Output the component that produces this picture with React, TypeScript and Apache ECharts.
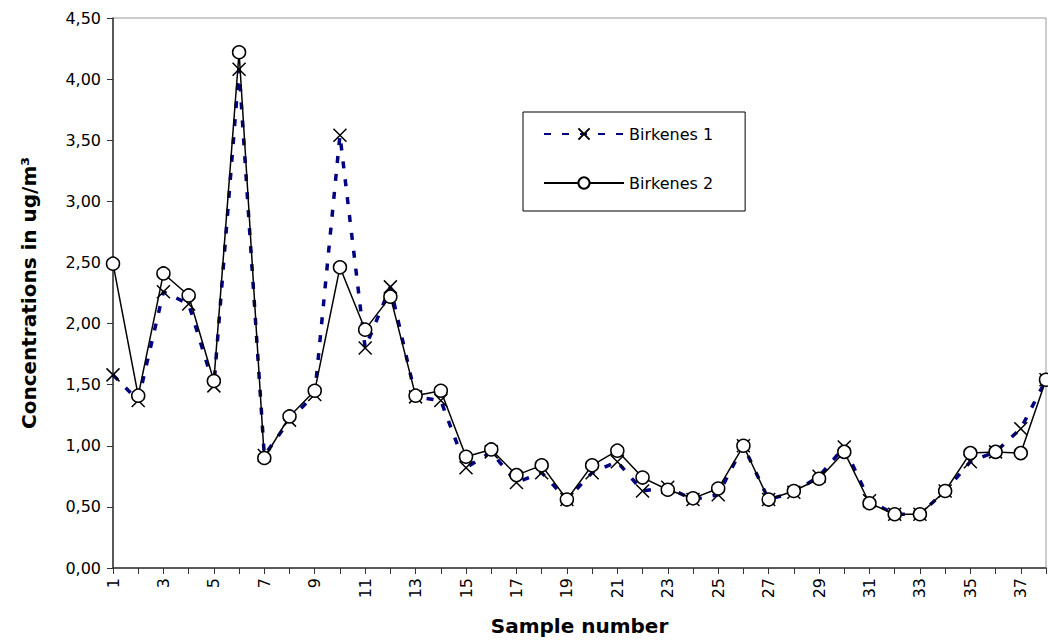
import React, { useEffect, useRef } from "react";
import * as echarts from "echarts";

const categories = Array.from({ length: 38 }, (_, i) => String(i + 1));

const birkenes1 = [
  1.58, 1.37, 2.26, 2.16, 1.49, 4.08, 0.92, 1.21, 1.42, 3.54,
  1.80, 2.30, 1.40, 1.37, 0.82, 0.95, 0.70, 0.78, 0.56, 0.78,
  0.87, 0.63, 0.66, 0.56, 0.60, 1.00, 0.56, 0.62, 0.75, 0.99,
  0.55, 0.44, 0.44, 0.63, 0.87, 0.95, 1.14, 1.54,
];

const birkenes2 = [
  2.49, 1.41, 2.41, 2.23, 1.53, 4.22, 0.90, 1.24, 1.45, 2.46,
  1.95, 2.22, 1.41, 1.45, 0.91, 0.97, 0.76, 0.84, 0.56, 0.84,
  0.96, 0.74, 0.64, 0.57, 0.65, 1.00, 0.56, 0.63, 0.73, 0.95,
  0.53, 0.44, 0.44, 0.63, 0.94, 0.95, 0.94, 1.54,
];

const FONT = "'DejaVu Sans', 'Liberation Sans', Arial, sans-serif";

export default function App() {
  const ref = useRef<HTMLDivElement>(null);
  useEffect(() => {
    if (!ref.current) return;
    const chart = echarts.init(ref.current, undefined, { renderer: "svg" });
    chart.setOption({
      animation: false,
      backgroundColor: "#fff",
      grid: {
        left: 113,
        right: 2,
        top: 18,
        bottom: 73,
        show: true,
        borderColor: "#999",
        borderWidth: 1,
      },
      legend: {
        left: 523,
        top: 112,
        orient: "vertical",
        padding: [14, 32, 20, 20],
        itemWidth: 80,
        itemHeight: 14,
        itemGap: 33,
        borderColor: "#000",
        borderWidth: 1,
        backgroundColor: "#fff",
        textStyle: { fontFamily: FONT, fontSize: 16, color: "#000" },
        data: ["Birkenes 1", "Birkenes 2"],
      },
      xAxis: {
        type: "category",
        data: categories,
        boundaryGap: false,
        name: "Sample number",
        nameLocation: "middle",
        nameGap: 48,
        nameTextStyle: {
          fontFamily: FONT,
          fontSize: 20,
          fontWeight: "bold",
          color: "#000",
        },
        axisLine: { lineStyle: { color: "#333", width: 1.5 } },
        axisTick: { interval: 0, length: 6, lineStyle: { color: "#333" } },
        axisLabel: {
          interval: 1,
          rotate: 90,
          fontFamily: FONT,
          fontSize: 16,
          color: "#000",
          margin: 10,
        },
        splitLine: { show: false },
      },
      yAxis: {
        type: "value",
        min: 0,
        max: 4.5,
        interval: 0.5,
        name: "Concentrations in ug/m³",
        nameLocation: "middle",
        nameGap: 74,
        nameTextStyle: {
          fontFamily: FONT,
          fontSize: 20,
          fontWeight: "bold",
          color: "#000",
        },
        axisLine: { show: true, lineStyle: { color: "#333", width: 1.5 } },
        axisTick: { show: true, length: 6, lineStyle: { color: "#333" } },
        axisLabel: {
          fontFamily: FONT,
          fontSize: 16,
          color: "#000",
          margin: 12,
          formatter: (v: number) => v.toFixed(2).replace(".", ","),
        },
        splitLine: { show: false },
      },
      series: [
        {
          name: "Birkenes 1",
          type: "line",
          data: birkenes1,
          symbol: "path://M0,0L10,10M10,0L0,10",
          symbolSize: 13,
          showAllSymbol: true,
          lineStyle: { color: "#000080", width: 3.5, type: [7, 11] },
          itemStyle: { color: "#000080", borderColor: "#000", borderWidth: 1.5 },
          emphasis: { disabled: true },
          z: 2,
        },
        {
          name: "Birkenes 2",
          type: "line",
          data: birkenes2,
          symbol: "circle",
          symbolSize: 13,
          showAllSymbol: true,
          lineStyle: { color: "#000", width: 1.5 },
          itemStyle: { color: "#fff", borderColor: "#000", borderWidth: 1.5 },
          emphasis: { disabled: true },
          z: 3,
        },
      ],
    });
    return () => chart.dispose();
  }, []);
  return (
    <div
      ref={ref}
      style={{ position: "fixed", left: 0, top: 0, width: 1048, height: 641 }}
    />
  );
}
